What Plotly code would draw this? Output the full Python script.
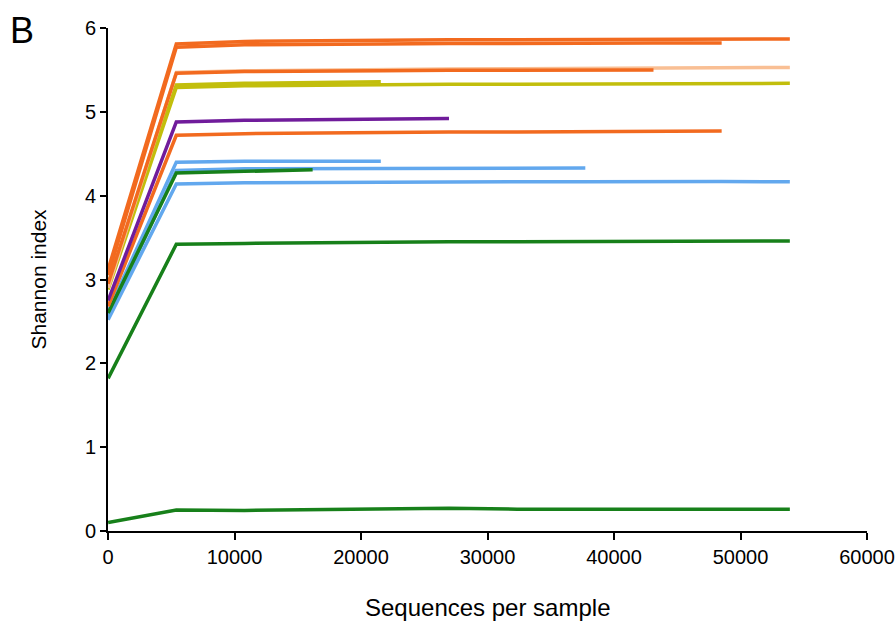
import plotly.graph_objects as go

# Rarefaction depths (sequences per sample)
depths = [10, 5399, 10788, 16177, 21566, 26955, 32344, 37733, 43122, 48511, 53900]

# Shannon index per sample at each depth (series stop at their own max depth)
sample_m = [0.10, 0.25, 0.245, 0.25, 0.255, 0.27, 0.26, 0.26, 0.26, 0.265, 0.26]
sample_k = [1.82, 3.42, 3.43, 3.44, 3.44, 3.45, 3.45, 3.45, 3.455, 3.46, 3.46]
sample_j = [2.52, 4.14, 4.155, 4.16, 4.16, 4.165, 4.165, 4.165, 4.17, 4.17, 4.165]
sample_h = [2.55, 4.30, 4.32, 4.32, 4.325, 4.33, 4.33, 4.33]
sample_g = [2.62, 4.40, 4.41, 4.41, 4.41]
sample_i = [2.60, 4.27, 4.29, 4.31]
sample_f = [2.68, 4.72, 4.74, 4.75, 4.755, 4.76, 4.76, 4.765, 4.77, 4.77]
sample_p = [2.75, 4.88, 4.90, 4.91, 4.915, 4.92]
sample_e2 = [2.88, 5.29, 5.31, 5.32, 5.32, 5.33, 5.33, 5.33, 5.34, 5.34, 5.34]
sample_e1 = [2.95, 5.32, 5.34, 5.35, 5.36]
sample_d = [2.90, 5.47, 5.49, 5.50, 5.51, 5.51, 5.515, 5.52, 5.52, 5.525, 5.53]
sample_c = [2.95, 5.46, 5.48, 5.49, 5.49, 5.495, 5.50, 5.50, 5.50]
sample_b = [3.05, 5.77, 5.80, 5.81, 5.81, 5.815, 5.82, 5.82, 5.82, 5.82]
sample_a = [3.12, 5.81, 5.84, 5.85, 5.855, 5.86, 5.86, 5.865, 5.87, 5.87, 5.87]

x_ticks = [0, 10000, 20000, 30000, 40000, 50000, 60000]
y_ticks = [0, 1, 2, 3, 4, 5, 6]

ORANGE = "#F26A1F"
PEACH = "#F9BF94"
OLIVE = "#C2BE0C"
PURPLE = "#701C9B"
BLUE = "#62A8EE"
GREEN = "#17801A"

series = [
    (sample_m, GREEN), (sample_k, GREEN), (sample_j, BLUE), (sample_h, BLUE),
    (sample_g, BLUE), (sample_i, GREEN), (sample_f, ORANGE), (sample_p, PURPLE),
    (sample_e2, OLIVE), (sample_e1, OLIVE), (sample_d, PEACH), (sample_c, ORANGE),
    (sample_b, ORANGE), (sample_a, ORANGE),
]

FONT = "Liberation Sans, Arial"

fig = go.Figure()
for values, color in series:
    fig.add_trace(go.Scatter(
        x=depths[:len(values)], y=values, mode="lines",
        line=dict(color=color, width=3.5), showlegend=False, hoverinfo="skip",
    ))

axis_common = dict(
    showline=True, linecolor="black", linewidth=2, ticks="outside",
    tickwidth=2, tickcolor="black", showgrid=False, zeroline=False,
    ticklabeloverflow="allow", automargin=False,
    tickfont=dict(family=FONT, size=20, color="black"),
)

fig.update_layout(
    width=896, height=627,
    margin=dict(l=108, r=29, t=28, b=96, autoexpand=False),
    paper_bgcolor="white", plot_bgcolor="white",
    xaxis=dict(range=[0, 60000], tickvals=x_ticks, ticktext=[str(v) for v in x_ticks],
               ticklen=7, **axis_common),
    yaxis=dict(range=[0, 6], tickvals=y_ticks, ticktext=[str(v) for v in y_ticks],
               ticklen=6, **axis_common),
    annotations=[
        dict(text="Sequences per sample", xref="paper", yref="paper", x=0.5, y=0,
             yshift=-76, showarrow=False, yanchor="middle",
             font=dict(family=FONT, size=24, color="black")),
        dict(text="Shannon index", xref="paper", yref="paper", x=0, y=0.5,
             xshift=-70, showarrow=False, textangle=-90, xanchor="center",
             font=dict(family=FONT, size=21, color="black")),
        dict(text="B", xref="paper", yref="paper", x=0, y=1, xshift=-86, yshift=-2,
             showarrow=False, xanchor="center", yanchor="middle",
             font=dict(family=FONT, size=36, color="black")),
    ],
)

fig.write_html("out.html")
